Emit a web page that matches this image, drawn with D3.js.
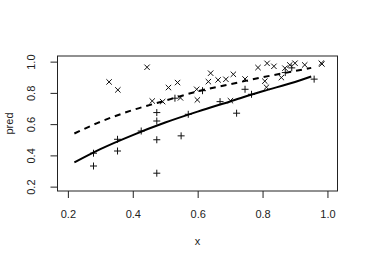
<!DOCTYPE html>
<html>
<head>
<meta charset="utf-8">
<script src="https://cdn.jsdelivr.net/npm/d3@7"></script>
<style>
  body { margin: 0; background: #fff; }
  svg { display: block; font-family: 'Liberation Sans', Arial, sans-serif; }
</style>
</head>
<body>
<div id="chart-area"></div>
<script>
// observed points drawn with "+"
const plusX = [0.279, 0.279, 0.353, 0.353, 0.426, 0.474, 0.474, 0.474, 0.474, 0.549, 0.571, 0.530, 0.615, 0.669, 0.72, 0.746, 0.766, 0.87, 0.89, 0.959];
const plusY = [0.414, 0.332, 0.503, 0.428, 0.556, 0.674, 0.62, 0.50, 0.286, 0.525, 0.663, 0.766, 0.814, 0.744, 0.67, 0.823, 0.791, 0.93, 0.96, 0.888];

// points drawn with "x"
const crossX = [0.327, 0.354, 0.444, 0.510, 0.538, 0.460, 0.492, 0.547, 0.597, 0.599, 0.633, 0.64, 0.663, 0.687, 0.710, 0.746, 0.701, 0.786, 0.814, 0.835, 0.807, 0.812, 0.858, 0.869, 0.884, 0.900, 0.930, 0.981, 0.983];
const crossY = [0.870, 0.819, 0.964, 0.834, 0.866, 0.748, 0.744, 0.768, 0.823, 0.755, 0.872, 0.926, 0.883, 0.887, 0.919, 0.889, 0.750, 0.962, 0.989, 0.970, 0.875, 0.836, 0.898, 0.958, 0.979, 0.990, 0.979, 0.990, 0.985];

// fitted curves
const curveX = [0.22, 0.30, 0.40, 0.50, 0.60, 0.70, 0.80, 0.90, 0.95];
const solidY = [0.355, 0.44, 0.53, 0.61, 0.68, 0.745, 0.81, 0.87, 0.905];
const dashedY = [0.54, 0.615, 0.69, 0.75, 0.81, 0.855, 0.90, 0.94, 0.96];

const xTicks = [0.2, 0.4, 0.6, 0.8, 1.0];
const yTicks = [0.2, 0.4, 0.6, 0.8, 1.0];

let width = 367;
let height = 263;
let box = { left: 57.5, right: 337.5, top: 56, bottom: 191 };

let xScale = d3.scaleLinear().domain([0.168, 1.031]).range([box.left, box.right]);
let yScale = d3.scaleLinear().domain([0.172, 1.036]).range([box.bottom, box.top]);

let chart = d3
  .select('#chart-area')
  .append('svg')
  .attr('width', width)
  .attr('height', height);

//axes
let xAxis = d3.axisBottom(xScale).tickValues(xTicks).tickSize(7).tickPadding(12).tickFormat(d3.format('.1f'));
let yAxis = d3.axisLeft(yScale).tickValues(yTicks).tickSize(7).tickFormat(d3.format('.1f'));

let gx = chart.append('g').attr('transform', `translate(0, ${box.bottom})`).call(xAxis);
gx.select('.domain').remove();
gx.selectAll('text').style('font-size', '11px').attr('fill', '#222');
gx.selectAll('line').attr('stroke', '#222');

let gy = chart.append('g').attr('transform', `translate(${box.left}, 0)`).call(yAxis);
gy.select('.domain').remove();
gy.selectAll('line').attr('stroke', '#222');
gy.selectAll('text')
  .attr('x', null)
  .attr('dy', null)
  .attr('transform', 'translate(-23, 0) rotate(-90)')
  .attr('text-anchor', 'middle')
  .style('font-size', '11px')
  .attr('fill', '#222');

//box
chart
  .append('rect')
  .attr('x', box.left)
  .attr('y', box.top)
  .attr('width', box.right - box.left)
  .attr('height', box.bottom - box.top)
  .attr('fill', 'none')
  .attr('stroke', '#222')
  .attr('stroke-width', 1);

//axis titles
chart
  .append('text')
  .attr('x', (box.left + box.right) / 2)
  .attr('y', 244.5)
  .attr('text-anchor', 'middle')
  .style('font-size', '11px')
  .attr('fill', '#222')
  .text('x');
chart
  .append('text')
  .attr('transform', `translate(13, ${(box.top + box.bottom) / 2}) rotate(-90)`)
  .attr('text-anchor', 'middle')
  .style('font-size', '11px')
  .attr('fill', '#222')
  .text('pred');

//plus markers
let plusData = plusX.map((x, i) => ({ x: x, y: plusY[i] }));
let p = 3.5;
chart
  .append('g')
  .selectAll('path')
  .data(plusData)
  .enter()
  .append('path')
  .attr('d', (d) => {
    let cx = xScale(d.x), cy = yScale(d.y);
    return `M${cx - p},${cy}H${cx + p}M${cx},${cy - p}V${cy + p}`;
  })
  .attr('stroke', '#111')
  .attr('stroke-width', 1);

//cross markers
let crossData = crossX.map((x, i) => ({ x: x, y: crossY[i] }));
let c = 2.7;
chart
  .append('g')
  .selectAll('path')
  .data(crossData)
  .enter()
  .append('path')
  .attr('d', (d) => {
    let cx = xScale(d.x), cy = yScale(d.y);
    return `M${cx - c},${cy - c}L${cx + c},${cy + c}M${cx - c},${cy + c}L${cx + c},${cy - c}`;
  })
  .attr('stroke', '#111')
  .attr('stroke-width', 1);

//curves
let line = d3
  .line()
  .x((d) => xScale(d[0]))
  .y((d) => yScale(d[1]))
  .curve(d3.curveMonotoneX);

chart
  .append('path')
  .attr('d', line(curveX.map((x, i) => [x, solidY[i]])))
  .attr('fill', 'none')
  .attr('stroke', '#000')
  .attr('stroke-width', 2);

chart
  .append('path')
  .attr('d', line(curveX.map((x, i) => [x, dashedY[i]])))
  .attr('fill', 'none')
  .attr('stroke', '#000')
  .attr('stroke-width', 2)
  .attr('stroke-dasharray', '6,5');
</script>
</body>
</html>
